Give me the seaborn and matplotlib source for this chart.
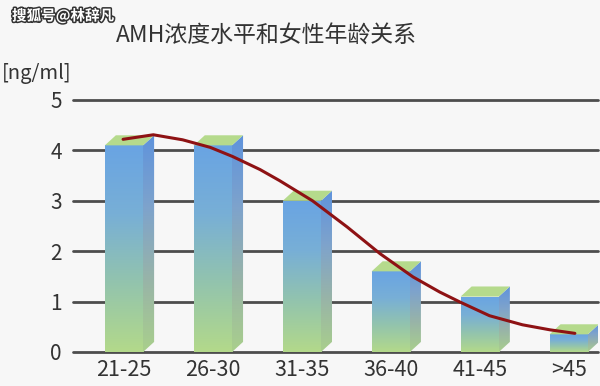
import numpy as np
import matplotlib
matplotlib.use("Agg")
import matplotlib.pyplot as plt
import matplotlib.patheffects as pe
from matplotlib.colors import LinearSegmentedColormap
from matplotlib.patches import Polygon
import seaborn as sns
import pandas as pd

# data
age_groups = ["21-25", "26-30", "31-35", "36-40", "41-45", ">45"]
amh_levels = [4.1, 4.1, 3.0, 1.6, 1.1, 0.35]

# trend curve, sampled along the red line (x in category positions)
curve_x = [-0.01, 0.33, 0.66, 0.97, 1.22, 1.53, 1.75, 2.12, 2.51, 2.88,
           3.25, 3.55, 3.78, 4.11, 4.48, 4.79, 5.07]
curve_y = [4.22, 4.31, 4.21, 4.06, 3.88, 3.62, 3.40, 3.00, 2.48, 1.95,
           1.49, 1.19, 0.99, 0.72, 0.54, 0.44, 0.37]

y_ticks = [0, 1, 2, 3, 4, 5]

sns.set_theme(style="white")
plt.rcParams["font.family"] = ["Noto Sans CJK SC", "DejaVu Sans"]

bg = "#f7f7f7"
front_cmap = LinearSegmentedColormap.from_list(
    "front", ["#b3d98a", "#93c4ad", "#78afd6", "#69a4e3"])
side_cmap = LinearSegmentedColormap.from_list(
    "side", ["#a9cf8c", "#98b4a8", "#7ea3cc", "#5f93dc"])

fig = plt.figure(figsize=(6, 3.86), dpi=100, facecolor=bg)
ax = fig.add_axes([73 / 600, 34 / 386, 525 / 600, 252 / 386], facecolor=bg)

df = pd.DataFrame({"age": age_groups, "amh": amh_levels})
sns.barplot(data=df, x="age", y="amh", width=0.43, color="#8fc0b5",
            ax=ax, zorder=2)

# fake 3d: gradient front, shaded side, flat top
dx, dy = 0.124, 0.2
grad = np.linspace(0, 1, 256).reshape(-1, 1)
for bar in ax.patches:
    x0, w, h = bar.get_x(), bar.get_width(), bar.get_height()
    bar.set_facecolor("none")
    bar.set_edgecolor("none")
    im = ax.imshow(grad, cmap=front_cmap, origin="lower", aspect="auto",
                   extent=[x0, x0 + w, 0, h], zorder=2)
    im.set_clip_path(bar)
    side = Polygon([(x0 + w, 0), (x0 + w + dx, dy), (x0 + w + dx, h + dy),
                    (x0 + w, h)], closed=True, facecolor="none",
                   edgecolor="none", zorder=2)
    ax.add_patch(side)
    im2 = ax.imshow(grad, cmap=side_cmap, origin="lower", aspect="auto",
                    extent=[x0 + w, x0 + w + dx, 0, h + dy], zorder=2)
    im2.set_clip_path(side)
    top = Polygon([(x0, h), (x0 + w, h), (x0 + w + dx, h + dy),
                   (x0 + dx, h + dy)], closed=True, facecolor="#b5da8c",
                  edgecolor="none", zorder=2)
    ax.add_patch(top)

sns.lineplot(x=curve_x, y=curve_y, color="#8e1214", linewidth=2.2,
             sort=False, ax=ax, zorder=4)

for yv in y_ticks:
    ax.axhline(yv, color="#4d4d4d", linewidth=2.0, zorder=1, clip_on=False)

ax.set_xlim(-0.573, 5.33)
ax.set_ylim(0, 5)
ax.set_yticks(y_ticks)
ax.set_xlabel("")
ax.set_ylabel("")
for s in ax.spines.values():
    s.set_visible(False)
ax.tick_params(axis="y", length=0, pad=8, labelsize=15, labelcolor="#333333")
ax.tick_params(axis="x", length=0, pad=5, labelsize=15.5, labelcolor="#333333")

fig.text(266 / 600, 1 - 36 / 386, "AMH浓度水平和女性年龄关系", ha="center",
         va="center", fontsize=16.5, color="#333333")
fig.text(0.003, 1 - 74 / 386, "[ng/ml]", ha="left", va="center",
         fontsize=14.5, color="#333333")
fig.text(12 / 600, 1 - 16 / 386, "搜狐号@林辞凡", ha="left", va="center",
         fontsize=10.5, color="white", fontweight="bold",
         path_effects=[pe.withStroke(linewidth=2.2, foreground="#333333")])

fig.savefig("out.png", dpi=100, facecolor=bg)
